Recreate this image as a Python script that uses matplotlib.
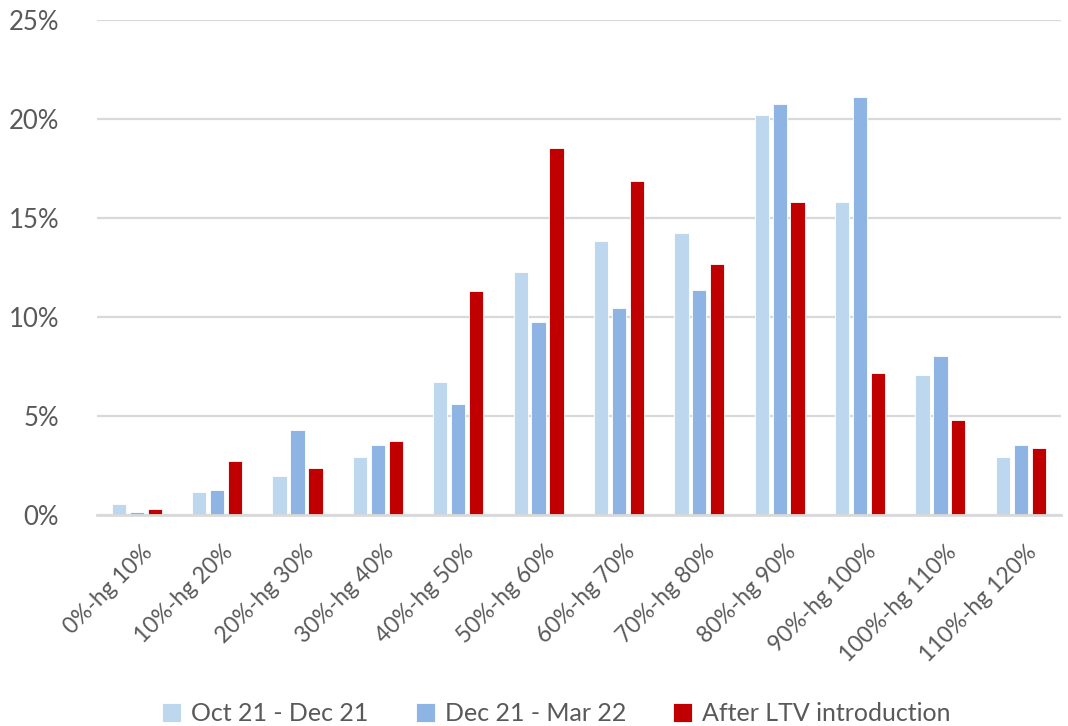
import matplotlib.pyplot as plt
import matplotlib.transforms as mtransforms
import numpy as np

plt.rcParams['font.family'] = ['Lato', 'DejaVu Sans']

categories = ['0%-hg 10%', '10%-hg 20%', '20%-hg 30%', '30%-hg 40%',
              '40%-hg 50%', '50%-hg 60%', '60%-hg 70%', '70%-hg 80%',
              '80%-hg 90%', '90%-hg 100%', '100%-hg 110%', '110%-hg 120%']

oct_dec = [0.57, 1.18, 1.97, 2.95, 6.72, 12.27, 13.86, 14.22, 20.17, 15.80, 7.09, 2.94]
dec_mar = [0.17, 1.28, 4.29, 3.54, 5.61, 9.73, 10.44, 11.38, 20.73, 21.09, 8.02, 3.53]
after_ltv = [0.32, 2.73, 2.37, 3.75, 11.33, 18.55, 16.85, 12.69, 15.78, 7.18, 4.79, 3.41]

series = [
    ('Oct 21 - Dec 21', oct_dec, '#BDD7EE'),
    ('Dec 21 - Mar 22', dec_mar, '#8DB4E2'),
    ('After LTV introduction', after_ltv, '#C00000'),
]

text_color = '#595959'
grid_color = '#D9D9D9'

fig = plt.figure(figsize=(10.68, 7.26), dpi=100)
ax = fig.add_axes([0.0905, 0.2902, 0.9029, 0.6827])

x = np.arange(len(categories))
step = 0.223
width = 0.178
for i, (name, vals, color) in enumerate(series):
    ax.bar(x + (i - 1) * step, vals, width, color=color, label=name,
           edgecolor='white', linewidth=0.6, zorder=3)

ax.set_xlim(-0.5, len(categories) - 0.5)
ax.set_ylim(0, 25)
ax.set_yticks(range(0, 26, 5))
ax.set_yticklabels([f'{v}%' for v in range(0, 26, 5)])
ax.yaxis.grid(True, color=grid_color, linewidth=1.6, zorder=0)
ax.set_axisbelow(True)

for side in ['top', 'right', 'left']:
    ax.spines[side].set_visible(False)
ax.spines['bottom'].set_color(grid_color)
ax.spines['bottom'].set_linewidth(2)
ax.spines['bottom'].set_zorder(4)

ax.tick_params(axis='y', length=0, pad=27, labelsize=18.5, labelcolor=text_color)
ax.tick_params(axis='x', length=0, pad=24, labelsize=16.5, labelcolor=text_color)
ax.set_xticks(x)
ax.set_xticklabels(categories, rotation=45, ha='right', va='center',
                   rotation_mode='anchor')
# nudge the slanted labels a little to the right of each group centre
shift = mtransforms.ScaledTranslation(9 / 72, 0, fig.dpi_scale_trans)
for lab in ax.get_xticklabels():
    lab.set_transform(lab.get_transform() + shift)

fig.legend(loc='lower center', bbox_to_anchor=(0.521, -0.03), ncol=3,
           frameon=False, fontsize=18, handlelength=0.75, handleheight=0.75,
           handletextpad=0.4, columnspacing=1.9, labelcolor=text_color)

fig.savefig('out.png', dpi=100)
